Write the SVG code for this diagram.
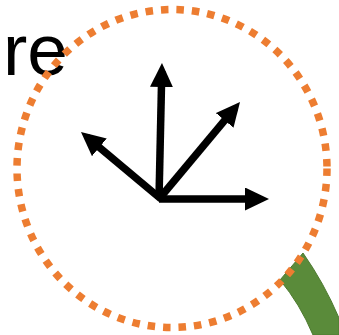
<svg xmlns="http://www.w3.org/2000/svg" width="339" height="335" viewBox="0 0 339 335">
<defs>
<style>
.arrow{stroke:#000;stroke-width:7.5;fill:none;marker-end:url(#ah)}
.ring{fill:none;stroke:#ED7D31;stroke-width:7.5;stroke-dasharray:7.5 8}
.label{font-family:"Liberation Sans",Arial,sans-serif;font-size:73px;fill:#000}
</style>
<marker id="ah" markerUnits="userSpaceOnUse" markerWidth="24" markerHeight="23" refX="16" refY="11.5" orient="auto" viewBox="0 0 24 23">
<path d="M0,0 L24,11.5 L0,23 Z" fill="#000"/>
</marker>
</defs>
<rect width="339" height="335" fill="#fff"/>
<g id="label"><text class="label" x="3" y="75">re</text></g>
<g id="stem">
<path d="M280,280 L303,253 Q324,283 339,318 L339,335 L313,335 Q300,304 280,280 Z" fill="#5A8B3A" stroke="#4E7A30" stroke-width="1"/>
</g>
<g id="ring"><ellipse class="ring" cx="172" cy="168.5" rx="155" ry="159"/></g>
<g id="connectors">
<line class="arrow" x1="159" y1="199" x2="161.8" y2="71"/>
<line class="arrow" x1="159" y1="199" x2="261" y2="199"/>
<line class="arrow" x1="159" y1="199" x2="234.9" y2="108.1"/>
<line class="arrow" x1="161" y1="199" x2="87.1" y2="137.1"/>
</g>
</svg>
